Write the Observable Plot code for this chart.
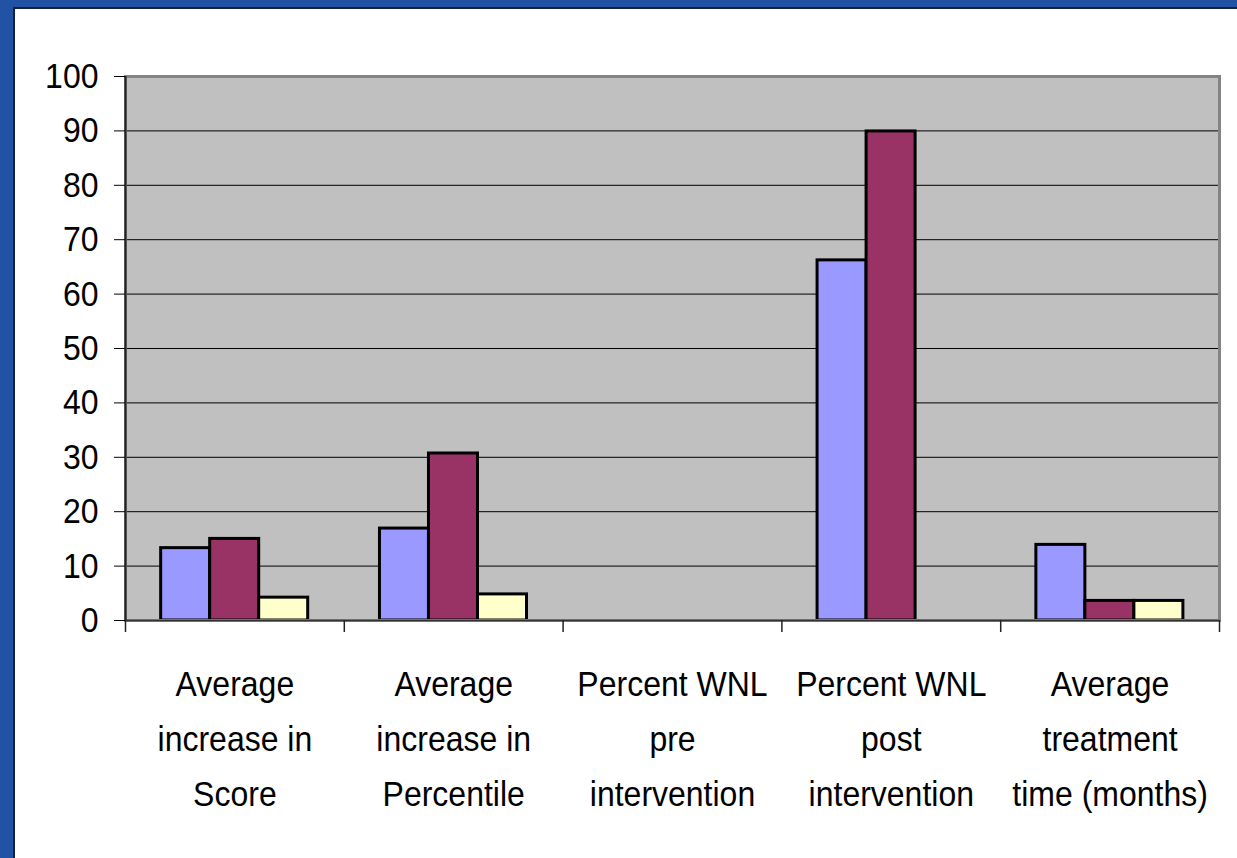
<!DOCTYPE html>
<html>
<head>
<meta charset="utf-8">
<script src="https://cdn.jsdelivr.net/npm/d3@7"></script>
<script src="https://cdn.jsdelivr.net/npm/@observablehq/plot@0.6"></script>
<style>
  html, body { margin: 0; padding: 0; }
  body { background: #2152A3; width: 1237px; height: 858px; overflow: hidden; position: relative; }
  #panel { position: absolute; left: 13px; top: 7px; right: 0; bottom: 0; background: #ffffff;
           border-left: 2px solid #14213d; border-top: 2px solid #14213d; }
  #chart { position: absolute; left: 0; top: 0; }
</style>
</head>
<body>
<div id="panel"></div>
<div id="chart"></div>
<script>
// ---- Data ----
const categories = [
  "Average\nincrease in\nScore",
  "Average\nincrease in\nPercentile",
  "Percent WNL\npre\nintervention",
  "Percent WNL\npost\nintervention",
  "Average\ntreatment\ntime (months)"
];
const seriesNames = ["Series 1", "Series 2", "Series 3"];
const series1 = [13.3, 16.9, 0, 66.2, 13.9];
const series2 = [15.0, 30.7, 0, 89.9, 3.6];
const series3 = [4.2, 4.8, 0, 0, 3.6];
const yTicks = [0, 10, 20, 30, 40, 50, 60, 70, 80, 90, 100];
const seriesColors = ["#9999FF", "#993366", "#FFFFCC"];

const seriesValues = [series1, series2, series3];
const table = [];
categories.forEach((c, i) => {
  seriesValues.forEach((vals, j) => {
    table.push({cat: c, i, j, series: seriesNames[j], value: vals[i]});
  });
});

// layout of bars within a category slot (fraction of slot)
const groupOffset = 0.163;
const barWidth = 0.224;

const chart = Plot.plot({
  width: 1237,
  height: 858,
  marginLeft: 125,
  marginRight: 18,
  marginTop: 76,
  marginBottom: 238,
  style: {background: "transparent", fontFamily: "'Liberation Sans', Arial, sans-serif", color: "#000"},
  x: {domain: [0, categories.length], axis: null},
  y: {domain: [0, 100], axis: null, label: null},
  color: {domain: seriesNames, range: seriesColors},
  marks: [
    Plot.frame({fill: "#C0C0C0", stroke: null}),
    Plot.gridY(yTicks, {stroke: "#000", strokeOpacity: 1, strokeWidth: 1}),
    Plot.rectY(table.filter(d => d.value > 0), {
      x1: d => d.i + groupOffset + d.j * barWidth,
      x2: d => d.i + groupOffset + (d.j + 1) * barWidth,
      y1: 0,
      y2: "value",
      fill: "series",
      stroke: "#000",
      strokeWidth: 3
    }),
    Plot.frame({stroke: "#848484", strokeWidth: 3, fill: null}),
    Plot.ruleY([0], {stroke: "#333", strokeWidth: 1.5}),
    Plot.ruleX([0], {y1: 100, y2: 0, stroke: "#222", strokeWidth: 2}),
    Plot.axisX(d3.range(0, categories.length + 1), {tickSize: 12, tickFormat: () => "", label: null, stroke: "#222", strokeWidth: 1.5}),
    Plot.axisY(yTicks, {tickSize: 11, tickPadding: 16, fontSize: 32, label: null, stroke: "#000", fill: "#000"}),
    Plot.text(categories, {
      x: (d, i) => i + 0.5,
      frameAnchor: "bottom",
      lineAnchor: "top",
      dy: 36.5,
      lineHeight: 1.53,
      fontSize: 32,
      fill: "#000",
      text: d => d
    })
  ]
});
// stretch glyphs vertically a little, as in the reference slide
chart.querySelectorAll("text").forEach(t => {
  const tr = t.getAttribute("transform");
  if (tr && tr.includes("translate")) t.setAttribute("transform", tr + " scale(1,1.12)");
});
document.getElementById("chart").appendChild(chart);
</script>
</body>
</html>
